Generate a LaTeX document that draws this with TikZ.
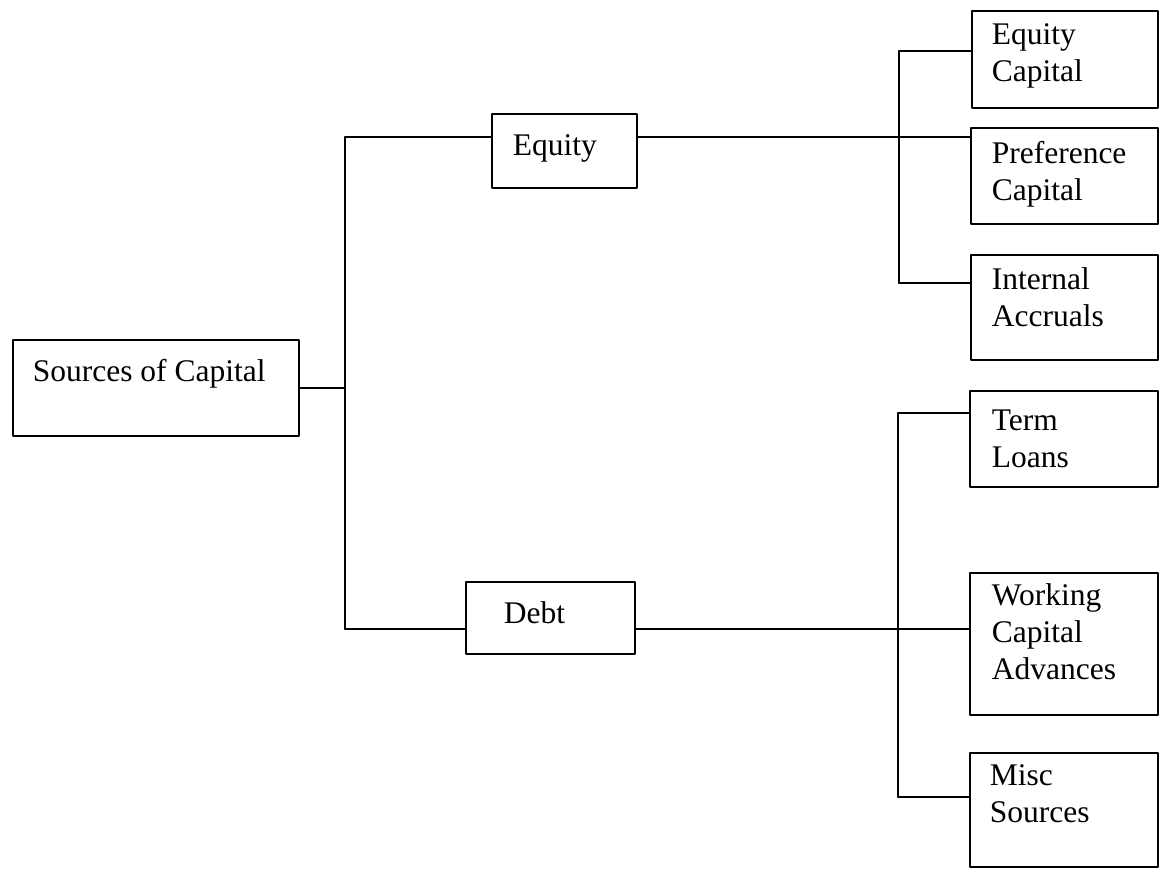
\documentclass[tikz,border=0pt]{standalone}
\usepackage{fontspec}
\setmainfont{Liberation Serif}
\begin{document}
\begin{tikzpicture}[x=1pt,y=-1pt,line width=1.6pt,line cap=round,line join=round,
    box/.style={draw,anchor=north west,inner sep=0pt},
    lbl/.style={anchor=north west,inner sep=0pt,align=left,
        font=\fontsize{31.5}{37}\selectfont,execute at begin node=\strut}]
        \useasboundingbox (0,0) rectangle (1162,869);

        % boxes
        \node[box,minimum width=286pt,minimum height=96pt] (src) at (12,339) {};
        \node[box,minimum width=145pt,minimum height=74pt] (eq) at (491,113) {};
        \node[box,minimum width=169pt,minimum height=72pt] (debt) at (465,581) {};
        \node[box,minimum width=186pt,minimum height=97pt] (eqcap) at (971,10) {};
        \node[box,minimum width=187pt,minimum height=96pt] (prefcap) at (970,127) {};
        \node[box,minimum width=187pt,minimum height=105pt] (intacc) at (970,254) {};
        \node[box,minimum width=188pt,minimum height=96pt] (term) at (969,390) {};
        \node[box,minimum width=188pt,minimum height=142pt] (wca) at (969,572) {};
        \node[box,minimum width=188pt,minimum height=114pt] (misc) at (969,752) {};

        % texts
        \node[lbl] (srct) at (32,355) {Sources of Capital};
        \node[lbl] (eqt) at (512,129) {Equity};
        \node[lbl] (debtt) at (503,597) {Debt};
        \node[lbl] (eqcapt) at (991,23) {Equity\\Capital};
        \node[lbl] (prefcapt) at (991,141) {Preference\\Capital};
        \node[lbl] (intacct) at (991,267) {Internal\\Accruals};
        \node[lbl] (termt) at (991,409) {Term\\Loans};
        \node[lbl] (wcat) at (991,583) {Working\\Capital\\Advances};
        \node[lbl] (misct) at (989,764) {Misc\\Sources};

        % junctions
        \coordinate (tr) at (345,137);
        \coordinate (br) at (345,629);
        \coordinate (ua) at (899,51);
        \coordinate (ub) at (899,283);
        \coordinate (la) at (898,413);
        \coordinate (lb) at (898,797);

        % connectors
        \draw (src.east) -- (src.east -| tr);
        \draw (tr) -- (br);
        \draw (tr) -- (tr -| eq.west);
        \draw (br) -- (br -| debt.west);
        \draw (eq.east |- tr) -- (tr -| prefcap.west);
        \draw (debt.east |- br) -- (br -| wca.west);
        \draw (ua) -- (ub);
        \draw (ua) -- (ua -| eqcap.west);
        \draw (ub) -- (ub -| intacc.west);
        \draw (la) -- (lb);
        \draw (la) -- (la -| term.west);
        \draw (lb) -- (lb -| misc.west);
\end{tikzpicture}
\end{document}
